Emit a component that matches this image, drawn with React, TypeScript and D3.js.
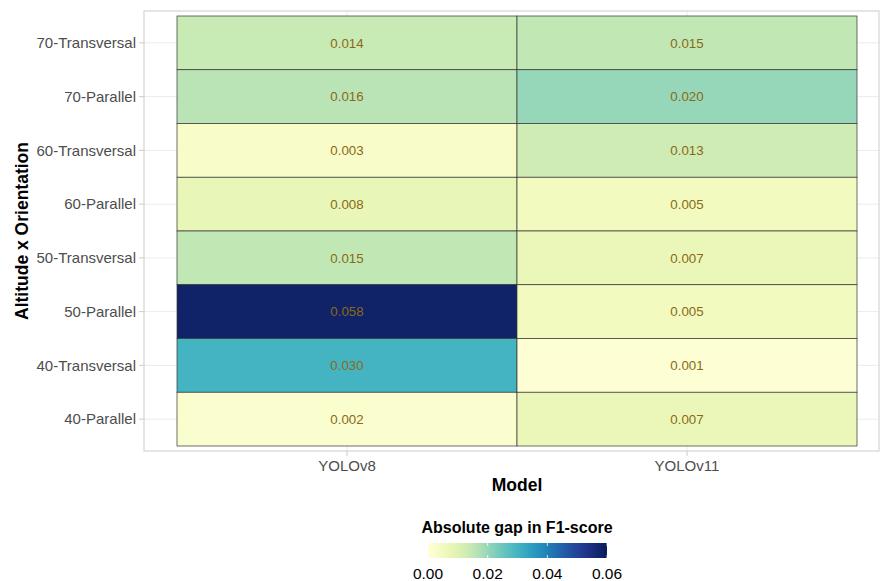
import React from "react";
import * as d3 from "d3";

// Rows listed top to bottom
const rows = [
  "70-Transversal",
  "70-Parallel",
  "60-Transversal",
  "60-Parallel",
  "50-Transversal",
  "50-Parallel",
  "40-Transversal",
  "40-Parallel",
];
const models = ["YOLOv8", "YOLOv11"];
const yolov8Gap = [0.014, 0.016, 0.003, 0.008, 0.015, 0.058, 0.03, 0.002];
const yolov11Gap = [0.015, 0.02, 0.013, 0.005, 0.007, 0.005, 0.001, 0.007];
const legendTicks = [0, 0.02, 0.04, 0.06];

const W = 881;
const H = 581;
const FONT = "'Liberation Sans', Arial, Helvetica, sans-serif";

const panel = { left: 144, right: 879, top: 11, bottom: 451 };

export default function App() {
  const cells = models.flatMap((m, mi) =>
    rows.map((r, ri) => ({
      model: m,
      row: r,
      value: (mi === 0 ? yolov8Gap : yolov11Gap)[ri],
    }))
  );

  const x = d3.scaleBand<string>().domain(models).range([177, 857]);
  const y = d3.scaleBand<string>().domain(rows).range([16, 446]);
  const color = d3
    .scaleSequential(d3.interpolateYlGnBu)
    .domain([0, 0.06]);

  const lx = d3.scaleLinear().domain([0, 0.06]).range([428, 607]);
  const legendTop = 543;
  const legendH = 15;
  const gradStops = d3.range(0, 1.0001, 0.05);

  return (
    <svg
      width={W}
      height={H}
      style={{ position: "absolute", left: 0, top: 0, background: "#fff" }}
      fontFamily={FONT}
    >
      <defs>
        <linearGradient id="gapGrad" x1="0" x2="1" y1="0" y2="0">
          {gradStops.map((t) => (
            <stop key={t} offset={`${t * 100}%`} stopColor={color(t * 0.06)} />
          ))}
        </linearGradient>
      </defs>

      {/* grid lines */}
      {rows.map((r) => (
        <line
          key={"gy" + r}
          x1={panel.left}
          x2={panel.right}
          y1={y(r)! + y.bandwidth() / 2}
          y2={y(r)! + y.bandwidth() / 2}
          stroke="#ebebeb"
          strokeWidth={1}
        />
      ))}
      {models.map((m) => (
        <line
          key={"gx" + m}
          x1={x(m)! + x.bandwidth() / 2}
          x2={x(m)! + x.bandwidth() / 2}
          y1={panel.top}
          y2={panel.bottom}
          stroke="#ebebeb"
          strokeWidth={1}
        />
      ))}

      {/* tiles */}
      {cells.map((c) => (
        <rect
          key={c.model + c.row}
          x={x(c.model)}
          y={y(c.row)}
          width={x.bandwidth()}
          height={y.bandwidth()}
          fill={color(c.value)}
          stroke="#333"
          strokeWidth={0.7}
        />
      ))}
      {cells.map((c) => (
        <text
          key={"t" + c.model + c.row}
          x={x(c.model)! + x.bandwidth() / 2}
          y={y(c.row)! + y.bandwidth() / 2}
          dy="0.35em"
          textAnchor="middle"
          fontSize={13.3}
          fill="#8B6914"
        >
          {c.value.toFixed(3)}
        </text>
      ))}

      {/* panel border */}
      <rect
        x={panel.left}
        y={panel.top}
        width={panel.right - panel.left}
        height={panel.bottom - panel.top}
        fill="none"
        stroke="#cccccc"
        strokeWidth={1}
      />

      {/* y axis */}
      {rows.map((r) => {
        const cy = y(r)! + y.bandwidth() / 2;
        return (
          <g key={"ya" + r}>
            <line x1={panel.left - 5} x2={panel.left} y1={cy} y2={cy} stroke="#cccccc" />
            <text
              x={panel.left - 8}
              y={cy}
              dy="0.35em"
              textAnchor="end"
              fontSize={15}
              fill="#4d4d4d"
            >
              {r}
            </text>
          </g>
        );
      })}
      {/* x axis */}
      {models.map((m) => {
        const cx = x(m)! + x.bandwidth() / 2;
        return (
          <g key={"xa" + m}>
            <line x1={cx} x2={cx} y1={panel.bottom} y2={panel.bottom + 5} stroke="#cccccc" />
            <text x={cx} y={panel.bottom + 20} textAnchor="middle" fontSize={15} fill="#4d4d4d">
              {m}
            </text>
          </g>
        );
      })}

      {/* axis titles */}
      <text
        x={517}
        y={491}
        textAnchor="middle"
        fontSize={17.5}
        fontWeight="bold"
        fill="#000"
      >
        Model
      </text>
      <text
        transform={`translate(28, ${(panel.top + panel.bottom) / 2}) rotate(-90)`}
        textAnchor="middle"
        fontSize={17.5}
        fontWeight="bold"
        fill="#000"
      >
        Altitude x Orientation
      </text>

      {/* legend */}
      <text
        x={517}
        y={533}
        textAnchor="middle"
        fontSize={16}
        fontWeight="bold"
        fill="#000"
      >
        Absolute gap in F1-score
      </text>
      <rect
        x={lx(0)}
        y={legendTop}
        width={lx(0.06) - lx(0)}
        height={legendH}
        fill="url(#gapGrad)"
      />
      {legendTicks.map((t) => (
        <g key={"lt" + t}>
          <line x1={lx(t)} x2={lx(t)} y1={legendTop} y2={legendTop + 3} stroke="#fff" strokeWidth={0.8} />
          <line
            x1={lx(t)}
            x2={lx(t)}
            y1={legendTop + legendH - 3}
            y2={legendTop + legendH}
            stroke="#fff"
            strokeWidth={0.8}
          />
          <text x={lx(t)} y={579} textAnchor="middle" fontSize={15.5} fill="#000">
            {t.toFixed(2)}
          </text>
        </g>
      ))}
    </svg>
  );
}
